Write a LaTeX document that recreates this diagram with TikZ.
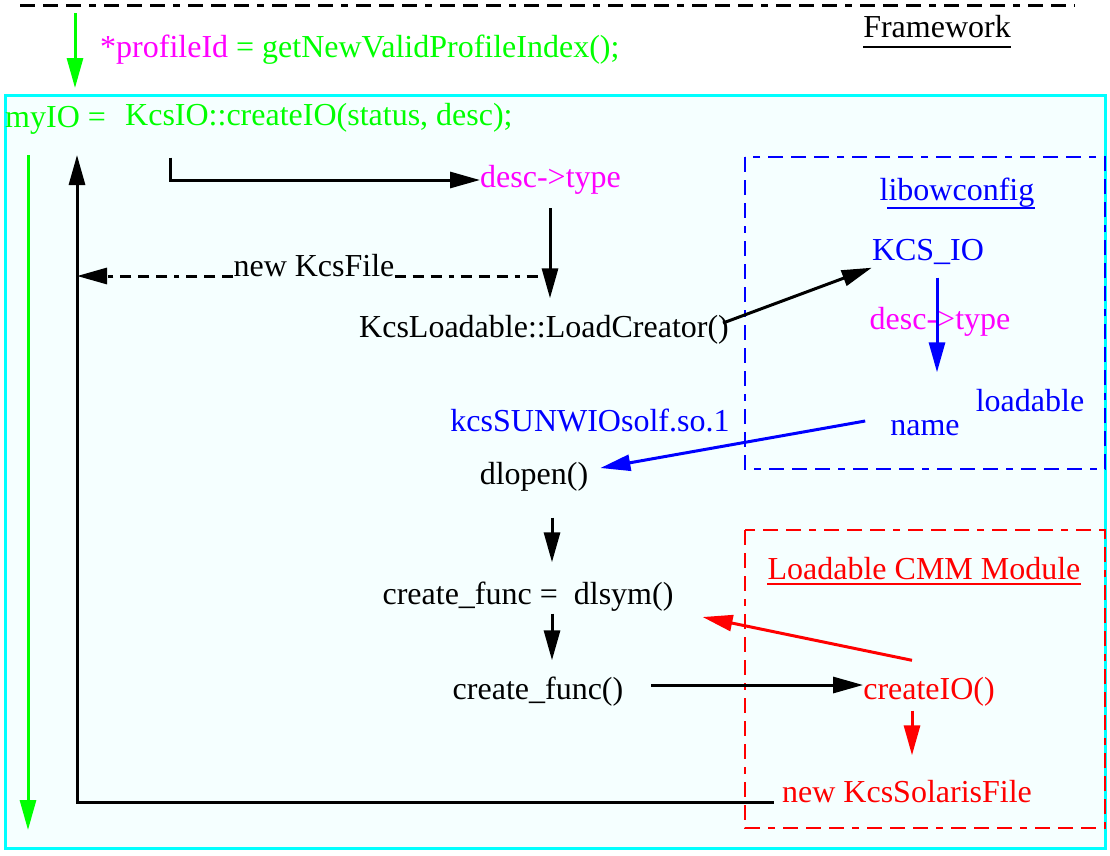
\documentclass[tikz,border=0pt]{standalone}
\usepackage{fontspec}
\setmainfont{Liberation Serif}
\usepackage{tikz}
\usetikzlibrary {
  arrows.meta,
  positioning,
}
\definecolor{fgreen}{RGB}{0,255,0}
\definecolor{fmag}{RGB}{255,0,255}
\definecolor{fblue}{RGB}{0,0,255}
\definecolor{fred}{RGB}{255,0,0}
\definecolor{fcyan}{RGB}{0,255,255}
\definecolor{fback}{RGB}{245,255,255}
\tikzset{
  txt/.style = {
    inner sep = 0pt,
    text height = 22pt,
    text depth = 7pt
  },
  tip/.style = {
    -{Triangle[length = 30pt, width = 16pt]}
  },
  flow/.style = {
    tip,
    line width = 3pt,
    color = #1
  },
  flow/.default = black,
  dotdash/.style = {
    dash pattern = on 15pt off 8pt on 15pt off 8pt on 15pt off 8pt on 7pt off 8pt
  },
  topline/.style = {
    dotdash,
    line width = 3pt
  },
  frame/.style = {
    draw = fcyan,
    fill = fback,
    line width = 3pt
  },
  modbox/.style = {
    dotdash,
    draw = #1,
    line width = 2.8pt
  },
  retdash/.style = {
    line width = 3pt,
    dash pattern = on 11pt off 7pt on 11pt off 7pt on 11pt off 7pt on 5pt off 7pt
  },
  uline/.style = {
    line width = 2.4pt,
    color = #1
  },
}

\begin{document}
\begin{tikzpicture}[x = 1pt, y = -1pt, font = \fontsize{32}{38}\selectfont]
  \useasboundingbox (0,0) rectangle (1110,855);
  \draw[topline] (20,5) -- (1075,5);
  \draw[frame] (5,95) rectangle (1105,848);
  \draw[modbox = fblue] (745,157) rectangle (1105,469);
  \draw[modbox = fred] (745,530) rectangle (1105,828);

  \node[txt, text = fgreen, anchor = west] (pid) at (100,50)
    {\textcolor{fmag}{*profileId} = getNewValidProfileIndex();};
  \node[txt] (fw) at (937,30) {Framework};
  \node[txt, text = fgreen, anchor = west] (myio) at (5,120) {myIO =};
  \node[txt, text = fgreen, anchor = west] (kcsio) at (125,118)
    {KcsIO::createIO(status, desc);};
  \node[txt, text = fmag, anchor = west] (desc1) at (480,180) {desc->type};
  \node[txt, anchor = base] (newfile) at (314,276) {new KcsFile};
  \node[txt] (loader) at (544,330) {KcsLoadable::LoadCreator()};
  \node[txt, text = fblue] (lib) at (957,193) {libowconfig};
  \node[txt, text = fblue] (kcs) at (928,253) {KCS\_IO};
  \node[txt, text = fmag] (desc2) at (940,322) {desc->type};
  \node[txt, text = fblue] (loadable) at (1030,404) {loadable};
  \node[txt, text = fblue] (name) at (925,428) {name};
  \node[txt, text = fblue] (solib) at (590,424) {kcsSUNWIOsolf.so.1};
  \node[txt] (dlopen) at (534,477) {dlopen()};
  \node[txt] (dlsym) at (528,597) {create\_func = \ dlsym()};
  \node[txt] (cfunc) at (538,692) {create\_func()};
  \node[txt, text = fred] (cmm) at (924,572) {Loadable CMM Module};
  \node[txt, text = fred] (createio) at (929,692) {createIO()};
  \node[txt, text = fred] (solaris) at (907,795) {new KcsSolarisFile};

  \coordinate (gtop) at (75,13);
  \coordinate (gbot) at (75,88);
  \coordinate (lifetop) at (28,155);
  \coordinate (lifebot) at (28,830);
  \coordinate (ret) at (77,155);
  \coordinate (tap) at (550,208);

  \draw[uline = black] ([shift={(0,2)}]fw.south west) -- ([shift={(0,2)}]fw.south east);
  \draw[uline = fblue] ([shift={(8,0)}]lib.south west) -- (lib.south east);
  \draw[uline = fred] ([shift={(0,-3)}]cmm.south west) -- ([shift={(0,-3)}]cmm.south east);

  \draw[flow = fgreen] (gtop) -- (gbot);
  \draw[flow = fgreen] (lifetop) -- (lifebot);
  \draw[flow, shorten <= 8pt] (solaris.base west) -- (solaris.base west -| ret) -- (ret);
  \draw[flow] ([shift={(45,25)}]kcsio.south west) |- (desc1.west);
  \draw[flow] (tap) -- ([shift={(6,-17)}]loader.north);
  \draw[retdash, tip] (newfile.base west) -- (newfile.base west -| ret);
  \draw[retdash] (newfile.base east) -- (newfile.base east -| tap);
  \draw[flow] ([shift={(-6,-7)}]loader.east) -- (kcs.south west);
  \draw[flow = fblue] ([shift={(9,10)}]kcs.south) -- ([shift={(12,-41)}]name.north);
  \draw[flow = fblue] ([shift={(-25,-7)}]name.west) -- ([shift={(12,-9)}]dlopen.east);
  \draw[flow] ([shift={(18,26)}]dlopen.south) -- ([shift={(24,-20)}]dlsym.north);
  \draw[flow] ([shift={(24,2)}]dlsym.south) -- ([shift={(14,-17)}]cfunc.north);
  \draw[flow] ([shift={(28,-7)}]cfunc.east) -- ([shift={(0,-7)}]createio.west);
  \draw[flow = fred] ([shift={(-17,-17)}]createio.north) -- ([shift={(29,20)}]dlsym.east);
  \draw[flow = fred] ([shift={(-17,4)}]createio.south) -- ([shift={(5,-25)}]solaris.north);
\end{tikzpicture}
\end{document}
